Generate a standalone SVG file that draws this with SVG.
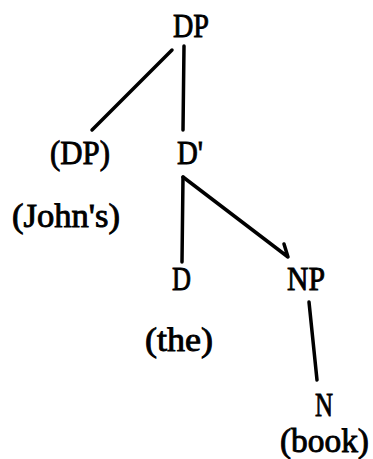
<svg xmlns="http://www.w3.org/2000/svg" width="373" height="459" viewBox="0 0 373 459">
<style>
text{font-family:"Liberation Serif","DejaVu Serif",serif;font-size:34px;fill:#000;stroke:#000;stroke-width:0.9}
.c line,.c polyline{stroke:#000;stroke-width:3.5;stroke-linecap:round;stroke-linejoin:round;fill:none}
</style>
<rect width="373" height="459" fill="#fff"/>
<g class="c" id="connectors">
<line x1="172" y1="50" x2="92" y2="130"/>
<line x1="184" y1="46" x2="183" y2="130"/>
<line x1="183" y1="177" x2="182" y2="262"/>
<polyline points="183,177 288,257 284,244"/>
<line x1="309" y1="302" x2="317" y2="380"/>
</g>
<g id="n-dp"><text x="173" y="37" textLength="36" lengthAdjust="spacingAndGlyphs">DP</text></g>
<g id="n-dp-spec"><text x="50" y="164" textLength="60" lengthAdjust="spacingAndGlyphs">(DP)</text></g>
<g id="n-dbar"><text x="177" y="164" textLength="26" lengthAdjust="spacingAndGlyphs">D'</text></g>
<g id="n-johns"><text x="12" y="227" textLength="108" lengthAdjust="spacingAndGlyphs">(John's)</text></g>
<g id="n-d"><text x="172" y="290" textLength="19" lengthAdjust="spacingAndGlyphs">D</text></g>
<g id="n-np"><text x="287" y="290" textLength="38" lengthAdjust="spacingAndGlyphs">NP</text></g>
<g id="n-the"><text x="145" y="351" textLength="68" lengthAdjust="spacingAndGlyphs">(the)</text></g>
<g id="n-n"><text x="315" y="416" textLength="18" lengthAdjust="spacingAndGlyphs">N</text></g>
<g id="n-book"><text x="280" y="452" textLength="89" lengthAdjust="spacingAndGlyphs">(book)</text></g>
</svg>
